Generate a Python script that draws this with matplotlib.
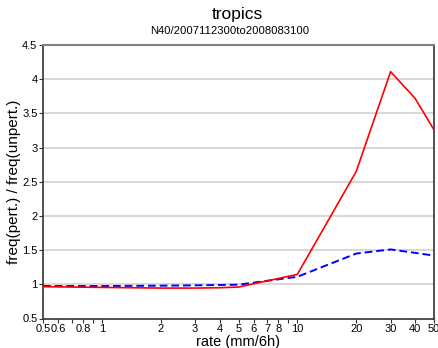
import matplotlib
matplotlib.use("Agg")
import matplotlib.pyplot as plt
from matplotlib.ticker import FixedLocator, FixedFormatter, NullLocator

plt.rcParams['font.family'] = ['Liberation Sans', 'DejaVu Sans']

rate = [0.5, 1, 2, 3, 4, 5, 10, 20, 30, 40, 50]
pert_red = [0.965, 0.955, 0.945, 0.945, 0.95, 0.96, 1.145, 2.65, 4.11, 3.72, 3.26]
pert_blue = [0.975, 0.975, 0.98, 0.985, 0.99, 0.995, 1.11, 1.45, 1.51, 1.46, 1.42]

xticks = [0.5, 0.6, 0.7, 0.8, 0.9, 1, 2, 3, 4, 5, 6, 7, 8, 9, 10, 20, 30, 40, 50]
xticklabels = ["0.5", "0.6", "", "0.8", "", "1", "2", "3", "4", "5", "6", "7", "8", "", "10", "20", "30", "40", "50"]
yticks = [0.5, 1, 1.5, 2, 2.5, 3, 3.5, 4, 4.5]
yticklabels = ["0.5", "1", "1.5", "2", "2.5", "3", "3.5", "4", "4.5"]

fig = plt.figure(figsize=(4.39, 3.48), dpi=100)
ax = fig.add_axes([43/439, 1-318.5/348, (434-43)/439, (318.5-45)/348])

for y in yticks[1:-1]:
    ax.axhline(y, color='#d4d4d4', lw=1.3, zorder=0)

ax.plot(rate, pert_red, color='#ff0000', lw=1.2, zorder=3)
ax.plot(rate, pert_blue, color='#0000ff', lw=1.4, ls=(0, (4, 2)), zorder=2)

ax.set_xscale('log')
ax.set_xlim(0.5, 50)
ax.set_ylim(0.5, 4.5)
ax.xaxis.set_major_locator(FixedLocator(xticks))
ax.xaxis.set_major_formatter(FixedFormatter(xticklabels))
ax.xaxis.set_minor_locator(NullLocator())
ax.yaxis.set_major_locator(FixedLocator(yticks))
ax.yaxis.set_major_formatter(FixedFormatter(yticklabels))
ax.tick_params(axis='both', labelsize=8, length=3, width=0.8, pad=1, color='#333333')

for s in ['left', 'bottom', 'right']:
    ax.spines[s].set_color('#333333')
    ax.spines[s].set_linewidth(1.2)
ax.spines['top'].set_color('#808080')
ax.spines['top'].set_linewidth(1.5)

ax.set_xlabel('rate (mm/6h)', fontsize=10.5, labelpad=1)
ax.set_ylabel('freq(pert.) / freq(unpert.)', fontsize=11, labelpad=0.5)

fig.text(237/439, 1-14/348, 'tropics', ha='center', va='center', fontsize=12.5)
fig.text(230/439, 1-31/348, 'N40/2007112300to2008083100', ha='center', va='center', fontsize=8.1)

fig.savefig('out.png', dpi=100)
